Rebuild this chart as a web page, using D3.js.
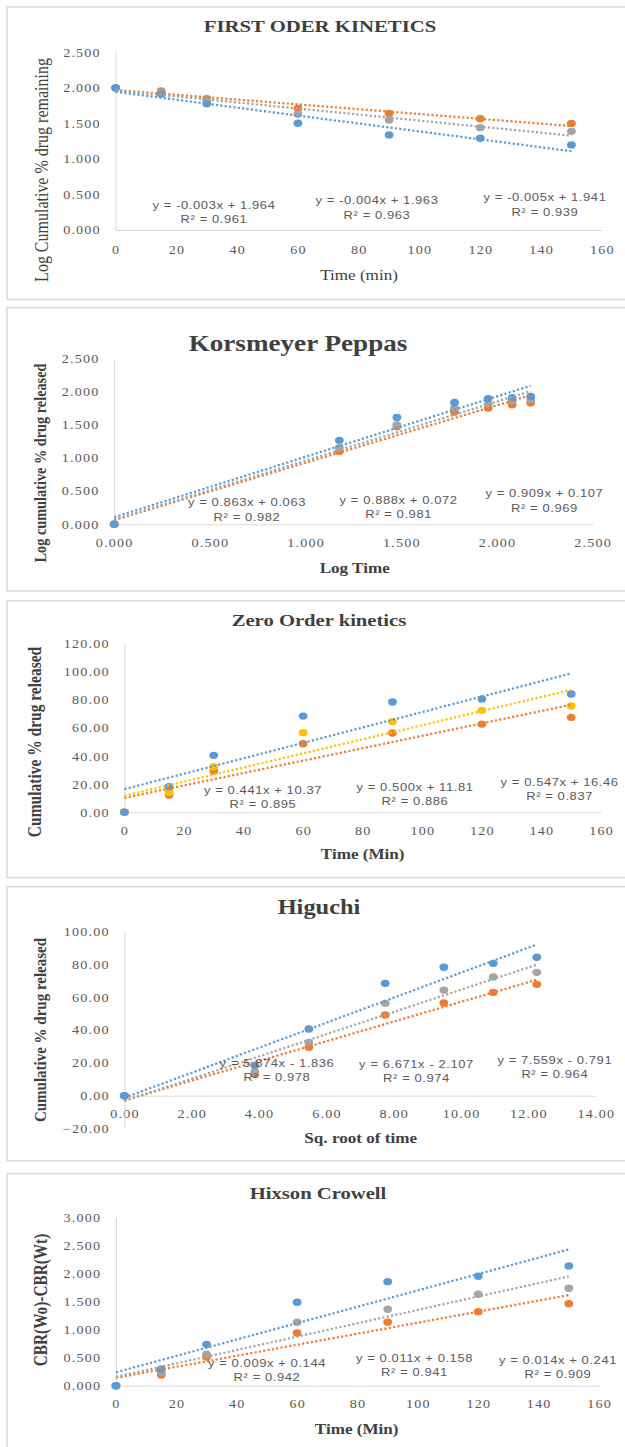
<!DOCTYPE html>
<html>
<head>
<meta charset="utf-8">
<script src="https://cdn.jsdelivr.net/npm/d3@7/dist/d3.min.js"></script>
<style>
  body { margin: 0; background: #fff; }
  svg { display: block; }
</style>
</head>
<body>
<svg id="chart" width="625" height="1447"></svg>
<script>
// ---- sampling points ----
const timeMin  = [0, 15, 30, 60, 90, 120, 150];
const logTime  = [0, 1.176, 1.477, 1.778, 1.954, 2.079, 2.176];
const sqrtTime = [0, 3.873, 5.477, 7.746, 9.487, 10.954, 12.247];

// ---- first order: log cumulative % drug remaining ----
const firstOrderF1 = [2.000, 1.955, 1.847, 1.710, 1.640, 1.566, 1.500];
const firstOrderF2 = [2.000, 1.937, 1.830, 1.630, 1.547, 1.440, 1.388];
const firstOrderF3 = [2.000, 1.915, 1.775, 1.502, 1.338, 1.290, 1.197];

// ---- Korsmeyer-Peppas: log cumulative % drug released ----
const peppasF1 = [0, 1.095, 1.470, 1.690, 1.752, 1.800, 1.830];
const peppasF2 = [0, 1.155, 1.497, 1.749, 1.810, 1.862, 1.879];
const peppasF3 = [0, 1.264, 1.609, 1.834, 1.893, 1.907, 1.925];

// ---- zero order: cumulative % drug released ----
const zeroOrderF1 = [0, 12.3, 29.4, 48.9, 56.5, 62.9, 67.7];
const zeroOrderF2 = [0, 14.2, 32.5, 56.8, 64.6, 72.7, 75.8];
const zeroOrderF3 = [0, 18.3, 40.6, 68.6, 78.6, 80.8, 84.3];

// ---- Higuchi: cumulative % drug released vs sqrt(time) ----
const higuchiF1 = [0, 13.0, 29.5, 49.2, 56.5, 63.0, 67.9];
const higuchiF2 = [0, 14.6, 32.5, 56.3, 64.4, 72.4, 75.2];
const higuchiF3 = [0, 18.5, 40.7, 68.5, 78.3, 80.7, 84.4];

// ---- Hixson-Crowell: cube root difference ----
const hixsonF1 = [0, 0.190, 0.511, 0.939, 1.130, 1.319, 1.462];
const hixsonF2 = [0, 0.238, 0.559, 1.130, 1.362, 1.629, 1.736];
const hixsonF3 = [0, 0.298, 0.737, 1.486, 1.854, 1.950, 2.134];

// ---- tick values ----
const timeTicks    = [0, 20, 40, 60, 80, 100, 120, 140, 160];
const logTimeTicks = [0, 0.5, 1.0, 1.5, 2.0, 2.5];
const sqrtTicks    = [0, 2, 4, 6, 8, 10, 12, 14];
const logTicks     = [0, 0.5, 1.0, 1.5, 2.0, 2.5];
const pctTicks     = [0, 20, 40, 60, 80, 100, 120];
const higuchiTicks = [-20, 0, 20, 40, 60, 80, 100];
const hixsonTicks  = [0, 0.5, 1.0, 1.5, 2.0, 2.5, 3.0];

// ---- trendline equation labels (F1, F2, F3) ----
const firstOrderEq = ["y = -0.003x + 1.964", "y = -0.004x + 1.963", "y = -0.005x + 1.941"];
const firstOrderR2 = ["R² = 0.961", "R² = 0.963", "R² = 0.939"];
const peppasEq     = ["y = 0.863x + 0.063", "y = 0.888x + 0.072", "y = 0.909x + 0.107"];
const peppasR2     = ["R² = 0.982", "R² = 0.981", "R² = 0.969"];
const zeroOrderEq  = ["y = 0.441x + 10.37", "y = 0.500x + 11.81", "y = 0.547x + 16.46"];
const zeroOrderR2  = ["R² = 0.895", "R² = 0.886", "R² = 0.837"];
const higuchiEq    = ["y = 5.874x - 1.836", "y = 6.671x - 2.107", "y = 7.559x - 0.791"];
const higuchiR2    = ["R² = 0.978", "R² = 0.974", "R² = 0.964"];
const hixsonEq     = ["y = 0.009x + 0.144", "y = 0.011x + 0.158", "y = 0.014x + 0.241"];
const hixsonR2     = ["R² = 0.942", "R² = 0.941", "R² = 0.909"];

// ---- colours ----
const BLUE = "#5b9bd5", ORANGE = "#ed7d31", GRAY = "#a5a5a5", GOLD = "#ffc000";
const SX = 1.18;            // horizontal stretch of all lettering
const SERIF = "'Liberation Serif', 'Times New Roman', serif";
const SANS = "'Liberation Sans', Arial, sans-serif";
const f3 = d3.format(".3f"), f2 = d3.format(".2f"), f0 = d3.format("d");

const svg = d3.select("#chart");
svg.append("rect").attr("width", 625).attr("height", 1447).attr("fill", "#fff");

function label(g, str, x, y, o) {
  return g.append("text")
    .attr("transform", `translate(${x},${y}) scale(${SX},1)` + (o.rotate ? " rotate(-90)" : ""))
    .attr("text-anchor", o.anchor || "middle")
    .attr("dominant-baseline", "central")
    .style("font-family", o.family || SERIF)
    .style("font-size", o.size + "px")
    .style("font-weight", o.weight || "normal")
    .style("letter-spacing", (o.ls || 0) + "px")
    .style("fill", o.color || "#404040")
    .text(str);
}

// least-squares linear trendline
function fit(xs, ys) {
  const mx = d3.mean(xs), my = d3.mean(ys);
  let sxy = 0, sxx = 0;
  xs.forEach((v, i) => { sxy += (v - mx) * (ys[i] - my); sxx += (v - mx) * (v - mx); });
  const m = sxy / sxx;
  return { m, b: my - m * mx };
}

function drawPanel(p) {
  const g = svg.append("g");
  g.append("rect").attr("x", 7).attr("y", p.top).attr("width", 640).attr("height", p.bottom - p.top)
    .attr("fill", "none").attr("stroke", "#d9d9d9").attr("stroke-width", 1.5);

  const x = d3.scaleLinear().domain(p.xDomain).range(p.xRange);
  const y = d3.scaleLinear().domain(p.yDomain).range(p.yRange);

  // x axis sits on y = 0
  const xa = g.append("g").attr("transform", `translate(0,${y(0)})`)
    .call(d3.axisBottom(x).tickValues(p.xTicks).tickFormat(p.xFmt).tickSize(0).tickSizeOuter(0));
  xa.selectAll("text").attr("y", p.xLabelOffset).attr("dy", "0.35em")
    .attr("transform", `scale(${SX},1)`)
    .style("font-family", SERIF).style("font-size", "12px").style("fill", "#595959")
    .style("letter-spacing", "1px");

  const ya = g.append("g").attr("transform", `translate(${x(0)},0)`)
    .call(d3.axisLeft(y).tickValues(p.yTicks).tickFormat(p.yFmt).tickSize(0).tickSizeOuter(0).tickPadding(12.5));
  ya.selectAll("text").attr("transform", `scale(${SX},1)`)
    .style("font-family", SERIF).style("font-size", "12px").style("fill", "#595959")
    .style("letter-spacing", "1px");

  g.selectAll(".domain").attr("stroke", "#d9d9d9").attr("stroke-width", 1);

  // markers, then dotted linear trendlines
  p.series.forEach(s => {
    g.append("g").selectAll("ellipse").data(s.values).join("ellipse")
      .attr("cx", (d, i) => x(p.xs[i])).attr("cy", d => y(d))
      .attr("rx", 4.4).attr("ry", 3.7).attr("fill", s.color);
  });
  p.series.forEach(s => {
    const t = fit(p.xs, s.values);
    const ends = [p.xs[0], p.xs[p.xs.length - 1]];
    g.append("path")
      .attr("d", d3.line().x(v => x(v)).y(v => y(t.m * v + t.b))(ends))
      .attr("fill", "none").attr("stroke", s.color).attr("stroke-width", 2.2)
      .attr("stroke-dasharray", "2.2 2.2");
  });

  // titles
  label(g, p.title, p.titlePos[0], p.titlePos[1], { size: p.titleSize, weight: "bold" });
  label(g, p.xTitle, p.xTitlePos[0], p.xTitlePos[1], { size: 14.5, weight: p.xTitleWeight });
  label(g, p.yTitle, p.yTitlePos[0], p.yTitlePos[1], { size: p.yTitleSize, weight: p.yTitleWeight, rotate: true });

  // equation labels
  p.eqPos.forEach((e, i) => {
    label(g, p.eq[i], e[0], e[1], { family: SANS, size: 11, color: "#595959", ls: 0.5 });
    label(g, p.r2[i], e[0], e[2], { family: SANS, size: 11, color: "#595959", ls: 0.5 });
  });
}

const panels = [
  {
    top: 7, bottom: 299.5,
    xDomain: [0, 160], xRange: [115.6, 601.8], xTicks: timeTicks, xFmt: f0, xLabelOffset: 20,
    yDomain: [0, 2.5], yRange: [230, 52.3], yTicks: logTicks, yFmt: f3,
    xs: timeMin,
    series: [{ values: firstOrderF1, color: ORANGE }, { values: firstOrderF2, color: GRAY }, { values: firstOrderF3, color: BLUE }],
    title: "FIRST ODER KINETICS", titlePos: [320, 26], titleSize: 17.6,
    xTitle: "Time (min)", xTitlePos: [359, 275], xTitleWeight: "normal",
    yTitle: "Log Cumulative % drug remaining", yTitlePos: [42, 170], yTitleSize: 16, yTitleWeight: "normal",
    eq: firstOrderEq, r2: firstOrderR2,
    eqPos: [[214, 205, 219], [377, 200, 215], [545, 197, 212]]
  },
  {
    top: 307.7, bottom: 591,
    xDomain: [0, 2.5], xRange: [114.2, 592.7], xTicks: logTimeTicks, xFmt: f3, xLabelOffset: 19,
    yDomain: [0, 2.5], yRange: [524.3, 358.3], yTicks: logTicks, yFmt: f3,
    xs: logTime,
    series: [{ values: peppasF1, color: ORANGE }, { values: peppasF2, color: GRAY }, { values: peppasF3, color: BLUE }],
    title: "Korsmeyer Peppas", titlePos: [298, 343], titleSize: 23,
    xTitle: "Log Time", xTitlePos: [354.7, 567.7], xTitleWeight: "bold",
    yTitle: "Log cumulative % drug released", yTitlePos: [40, 463], yTitleSize: 14.3, yTitleWeight: "bold",
    eq: peppasEq, r2: peppasR2,
    eqPos: [[247, 502.7, 517.3], [398.6, 500, 514], [544.4, 493.3, 508]]
  },
  {
    top: 600.7, bottom: 877.7,
    xDomain: [0, 160], xRange: [124.4, 601], xTicks: timeTicks, xFmt: f0, xLabelOffset: 18.4,
    yDomain: [0, 120], yRange: [812.3, 644], yTicks: pctTicks, yFmt: f2,
    xs: timeMin,
    series: [{ values: zeroOrderF1, color: ORANGE }, { values: zeroOrderF2, color: GOLD }, { values: zeroOrderF3, color: BLUE }],
    title: "Zero Order kinetics", titlePos: [319, 620], titleSize: 17.5,
    xTitle: "Time (Min)", xTitlePos: [362.7, 854.3], xTitleWeight: "bold",
    yTitle: "Cumulative % drug released", yTitlePos: [35, 742], yTitleSize: 15.5, yTitleWeight: "bold",
    eq: zeroOrderEq, r2: zeroOrderR2,
    eqPos: [[263, 790, 804.3], [415, 787.3, 801], [559.6, 782.3, 796]]
  },
  {
    top: 886.7, bottom: 1160.7,
    xDomain: [0, 14], xRange: [124.4, 595.8], xTicks: sqrtTicks, xFmt: f2, xLabelOffset: 18.6,
    yDomain: [-20, 100], yRange: [1128.5, 931.7], yTicks: higuchiTicks, yFmt: f2,
    xs: sqrtTime,
    series: [{ values: higuchiF1, color: ORANGE }, { values: higuchiF2, color: GRAY }, { values: higuchiF3, color: BLUE }],
    title: "Higuchi", titlePos: [319, 906.7], titleSize: 20.7,
    xTitle: "Sq. root of time", xTitlePos: [360.7, 1137.7], xTitleWeight: "bold",
    yTitle: "Cumulative %  drug released", yTitlePos: [40, 1030], yTitleSize: 15, yTitleWeight: "bold",
    eq: higuchiEq, r2: higuchiR2,
    eqPos: [[277, 1063.3, 1077.3], [416.5, 1064.3, 1078.3], [554.8, 1060.7, 1074.7]]
  },
  {
    top: 1173.7, bottom: 1470,
    xDomain: [0, 160], xRange: [116, 599], xTicks: timeTicks, xFmt: f0, xLabelOffset: 18.6,
    yDomain: [0, 3], yRange: [1385.7, 1217.3], yTicks: hixsonTicks, yFmt: f3,
    xs: timeMin,
    series: [{ values: hixsonF1, color: ORANGE }, { values: hixsonF2, color: GRAY }, { values: hixsonF3, color: BLUE }],
    title: "Hixson Crowell", titlePos: [318, 1192.7], titleSize: 17.5,
    xTitle: "Time (Min)", xTitlePos: [356.7, 1429], xTitleWeight: "bold",
    yTitle: "CBR(Wo)-CBR(Wt)", yTitlePos: [41, 1300], yTitleSize: 15.3, yTitleWeight: "bold",
    eq: hixsonEq, r2: hixsonR2,
    eqPos: [[267, 1363.3, 1377.3], [414.5, 1358.3, 1372.7], [558, 1360.7, 1374.3]]
  }
];

panels.forEach(drawPanel);
</script>
</body>
</html>
